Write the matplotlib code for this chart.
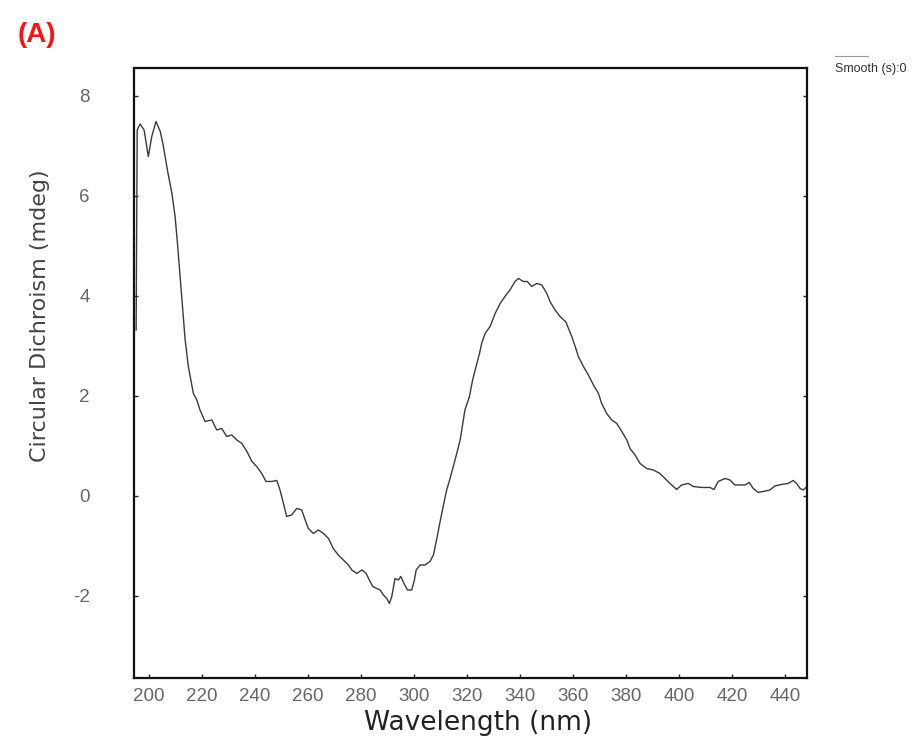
"""CD spectrum, panel (A).

  out.png -- circular dichroism vs wavelength
"""
from __future__ import annotations

import matplotlib

matplotlib.use("Agg")
import matplotlib.pyplot as plt
from matplotlib.lines import Line2D

plt.rcParams.update({
    "font.family": ["Liberation Sans", "DejaVu Sans"],
    "axes.unicode_minus": False,
    "figure.dpi": 100,
})

# values
wavelength = [
    195.1, 195.5, 196.6, 198.1, 199.7, 201.0, 202.6, 204.2, 205.4, 206.9,
    208.6, 209.8, 210.7, 211.7, 212.7, 213.6, 214.8, 216.7, 218.0, 219.2,
    221.1, 223.7, 225.5, 227.4, 229.3, 231.2, 233.1, 235.0, 236.9, 238.8,
    240.6, 242.5, 244.1, 246.3, 248.2, 249.4, 250.7, 251.9, 253.8, 255.7,
    257.6, 258.9, 260.1, 262.0, 263.9, 265.8, 267.7, 269.5, 271.4, 273.3,
    275.2, 276.5, 278.4, 280.3, 281.9, 283.1, 284.4, 285.9, 287.2, 288.4,
    289.7, 290.7, 291.6, 292.8, 294.1, 295.0, 296.2, 297.5, 299.1, 300.0,
    300.8, 302.3, 304.2, 306.0, 307.3, 308.6, 309.8, 311.1, 312.3, 313.6,
    314.8, 316.1, 317.4, 318.4, 319.2, 320.9, 322.1, 323.4, 324.7, 325.5,
    326.8, 328.7, 330.6, 332.5, 334.3, 336.2, 338.1, 339.4, 341.2, 342.7,
    344.4, 346.3, 348.2, 350.1, 351.3, 353.2, 355.1, 357.3, 359.5, 360.8,
    362.0, 363.9, 365.8, 367.7, 369.6, 370.8, 372.7, 374.6, 376.5, 378.4,
    380.3, 381.5, 383.4, 385.3, 387.8, 390.3, 392.8, 394.7, 396.6, 399.1,
    401.0, 403.5, 405.4, 408.5, 411.7, 413.2, 414.8, 417.4, 419.2, 421.1,
    423.0, 424.9, 426.5, 428.0, 429.9, 431.8, 434.3, 436.2, 438.7, 441.2,
    443.1, 444.4, 445.7, 446.9, 447.9,
]
cd_mdeg = [
    3.32, 7.32, 7.44, 7.32, 6.79, 7.19, 7.49, 7.29, 6.99, 6.52,
    6.05, 5.59, 5.05, 4.39, 3.72, 3.12, 2.59, 2.05, 1.92, 1.72,
    1.49, 1.52, 1.32, 1.35, 1.19, 1.22, 1.12, 1.05, 0.89, 0.69,
    0.59, 0.45, 0.29, 0.29, 0.31, 0.12, -0.15, -0.41, -0.38, -0.25,
    -0.28, -0.48, -0.65, -0.75, -0.68, -0.75, -0.85, -1.05, -1.18, -1.28,
    -1.38, -1.48, -1.55, -1.48, -1.55, -1.68, -1.81, -1.85, -1.88, -1.98,
    -2.05, -2.15, -2.01, -1.65, -1.68, -1.61, -1.75, -1.88, -1.88, -1.71,
    -1.48, -1.38, -1.38, -1.31, -1.18, -0.85, -0.52, -0.18, 0.12, 0.35,
    0.59, 0.85, 1.12, 1.45, 1.72, 1.99, 2.32, 2.59, 2.85, 3.05,
    3.25, 3.39, 3.65, 3.85, 3.99, 4.12, 4.29, 4.35, 4.29, 4.29,
    4.19, 4.25, 4.22, 4.05, 3.89, 3.72, 3.59, 3.48, 3.19, 2.99,
    2.79, 2.59, 2.42, 2.22, 2.05, 1.85, 1.65, 1.52, 1.45, 1.29,
    1.12, 0.95, 0.82, 0.65, 0.55, 0.52, 0.45, 0.35, 0.25, 0.13,
    0.22, 0.25, 0.19, 0.17, 0.17, 0.13, 0.29, 0.35, 0.32, 0.22,
    0.22, 0.22, 0.27, 0.15, 0.07, 0.09, 0.12, 0.20, 0.23, 0.25,
    0.31, 0.25, 0.15, 0.12, 0.17,
]
x_ticks = list(range(200, 441, 20))
y_ticks = [-2, 0, 2, 4, 6, 8]


def fig_cd() -> None:
    fig = plt.figure(figsize=(9.23, 7.42))
    ax = fig.add_axes([0.1452, 0.0863, 0.7291, 0.8221])
    ax.plot(wavelength, cd_mdeg, color="#3a3a3a", lw=1.0)

    ax.set_xlim(194.3, 448.3)
    ax.set_ylim(-3.64, 8.56)
    ax.set_xticks(x_ticks)
    ax.set_yticks(y_ticks)
    ax.tick_params(axis="both", direction="in", length=3, width=1,
                   colors="#222222", labelcolor="#666666", labelsize=13.5)
    ax.tick_params(axis="y", right=True, pad=32)
    ax.tick_params(axis="x", pad=7)
    for sp in ax.spines.values():
        sp.set_linewidth(1.6)
        sp.set_color("#111111")

    fig.text(0.518, 0.016, "Wavelength (nm)", ha="center", va="baseline",
             fontsize=19, color="#222222", family="DejaVu Sans")
    fig.text(0.043, 0.574, "Circular Dichroism (mdeg)", ha="center",
             va="center", rotation=90, fontsize=16, color="#444444",
             family="DejaVu Sans")
    fig.text(0.019, 0.953, "(A)", color="#ff1010", fontsize=20,
             fontweight="bold", va="center")

    # leftover legend of the instrument software
    fig.add_artist(Line2D([0.905, 0.94], [0.925, 0.925], color="#999999",
                          lw=0.8, transform=fig.transFigure))
    fig.text(0.905, 0.907, "Smooth (s):0", fontsize=9, color="#333333",
             va="center")

    fig.savefig("out.png", dpi=100, facecolor="white")
    plt.close(fig)


def main() -> None:
    fig_cd()


if __name__ == "__main__":
    main()
